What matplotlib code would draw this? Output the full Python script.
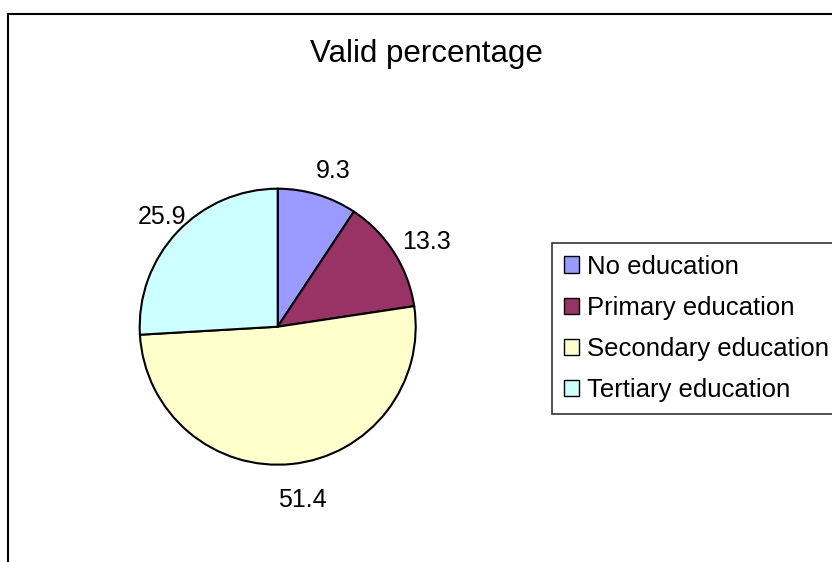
import matplotlib.pyplot as plt
from matplotlib.patches import Patch, Rectangle

plt.rcParams['font.family'] = ['Liberation Sans', 'DejaVu Sans']

# valid percentages by level of education
categories = ['No education', 'Primary education', 'Secondary education', 'Tertiary education']
values = [9.3, 13.3, 51.4, 25.9]
colors = ['#9999FF', '#993366', '#FFFFCC', '#CCFFFF']

W, H = 832, 562
fig = plt.figure(figsize=(W / 100, H / 100), dpi=100)

# pie centred at (278, 327) px with a 138 px radius
cx, cy, r = 277.7, 326.7, 138
ax = fig.add_axes([(cx - r) / W, (H - cy - r) / H, 2 * r / W, 2 * r / H])
wedges, texts = ax.pie(values, colors=colors, startangle=90, counterclock=False,
                       labels=[str(v) for v in values], labeldistance=1.22,
                       wedgeprops=dict(edgecolor='black', linewidth=1.5),
                       textprops=dict(fontsize=18))
for t in texts:
    t.set_ha('center')
    x, y = t.get_position()
    t.set_position((x + 0.05, y - 0.04))
ax.set_xlim(-1, 1)
ax.set_ylim(-1, 1)
ax.set_aspect('equal')

fig.text(426 / W, 1 - 54 / H, 'Valid percentage', ha='center', va='center', fontsize=22.5)

handles = [Patch(facecolor=c, edgecolor='black', linewidth=1) for c in colors]
leg = fig.legend(handles, categories, loc='upper left',
                 bbox_to_anchor=(552 / W, 1 - 243 / H), fontsize=18.5,
                 frameon=True, fancybox=False, borderaxespad=0, borderpad=0.45,
                 handlelength=0.6, handleheight=0.6, handletextpad=0.33,
                 labelspacing=0.67)
leg.get_frame().set_edgecolor('black')
leg.get_frame().set_linewidth(1.2)

# chart border, running off the right and bottom edges
fig.add_artist(Rectangle((8 / W, -0.1), 1.2, 1.1 - 13.7 / H, transform=fig.transFigure,
                         fill=False, edgecolor='black', linewidth=1.5))

fig.savefig('out.png', dpi=100)
